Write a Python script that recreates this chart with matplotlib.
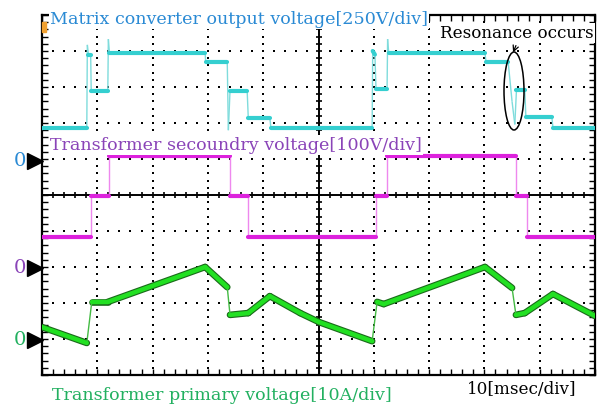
import numpy as np
import matplotlib
matplotlib.use('Agg')
import matplotlib.pyplot as plt
from matplotlib.collections import LineCollection
from matplotlib.patches import Ellipse, Rectangle

# traces in screen divisions (x: 0..10, y: 0..10 from the bottom)
cyan_x = [0, 0.81, 0.82, 0.84, 0.88, 0.89, 1.19, 1.20, 1.22, 2.95, 2.96, 3.35, 3.37, 3.40,
          3.71, 3.73, 4.12, 4.14, 5.97, 5.98, 6.02, 6.04, 6.24, 6.25, 6.27, 8.01, 8.03,
          8.43, 8.50, 8.55, 8.58, 8.73, 8.75, 9.22, 9.24, 10]
cyan_y = [6.86, 6.86, 9.17, 8.90, 8.90, 7.90, 7.90, 9.33, 8.94, 8.94, 8.69, 8.69, 6.80, 7.90,
          7.90, 7.14, 7.14, 6.86, 6.86, 9.00, 8.90, 7.95, 7.95, 9.33, 8.94, 8.94, 8.69,
          8.69, 7.60, 6.96, 7.92, 7.92, 7.17, 7.17, 6.86, 6.86]

mag_x = [0, 0.89, 0.89, 1.21, 1.21, 3.40, 3.40, 3.73, 3.73, 6.04, 6.04, 6.24, 6.24,
         8.57, 8.57, 8.77, 8.77, 10]
mag_y = [3.82, 3.82, 4.97, 4.97, 6.08, 6.08, 4.97, 4.97, 3.82, 3.82, 4.97, 4.97, 6.08,
         6.08, 4.97, 4.97, 3.82, 3.82]

grn_x = [0, 0.81, 0.90, 1.19, 2.95, 3.35, 3.40, 3.73, 4.12, 4.67, 5.01, 5.97, 6.06, 6.18,
         8.01, 8.50, 8.57, 8.73, 9.24, 10]
grn_y = [1.33, 0.89, 2.03, 2.03, 3.00, 2.44, 1.67, 1.72, 2.19, 1.72, 1.47, 0.94, 2.03, 1.97,
         3.00, 2.42, 1.67, 1.72, 2.25, 1.64]

zero_marks = [5.94, 2.97, 0.97]
zero_colors = ['#2a8ad4', '#8a44b8', '#22b060']

fig = plt.figure(figsize=(6.02, 4.05), dpi=100)
ax = fig.add_axes([42/602, 30/405, 553/602, 360/405])
ax.set_xlim(0, 10)
ax.set_ylim(0, 10)

ticks = np.arange(0, 10.01, 0.2)
ax.set_xticks(ticks)
ax.set_yticks(ticks)
ax.set_xticklabels([])
ax.set_yticklabels([])
ax.tick_params(direction='in', length=4, width=1, top=True, right=True)
for s in ax.spines.values():
    s.set_linewidth(1.6)

# dotted graticule
for i in range(1, 10):
    if i == 5:
        continue
    ax.plot(np.full(len(ticks), i), ticks, 's', color='black', ms=1.6, mew=0, zorder=1)
    ax.plot(ticks, np.full(len(ticks), i), 's', color='black', ms=1.6, mew=0, zorder=1)

# centre cross
ax.axvline(5, color='black', lw=1.4, zorder=1)
ax.axhline(5, color='black', lw=1.4, zorder=1)
ax.plot(ticks, np.full(len(ticks), 5), '|', color='black', ms=5, mew=1.2, zorder=1)
ax.plot(np.full(len(ticks), 5), ticks, '_', color='black', ms=5, mew=1.2, zorder=1)


def trace(xs, ys, color, thin_color, lw, edge=None):
    pts = np.column_stack([xs, ys])
    segs = np.stack([pts[:-1], pts[1:]], axis=1)
    dx = np.abs(np.diff(xs)) * 55.3
    dy = np.abs(np.diff(ys)) * 36
    steep = dy > 3 * dx
    if edge is not None:
        ax.add_collection(LineCollection(segs[~steep], colors=edge, linewidths=lw + 1.6,
                                         capstyle='round', zorder=3))
    ax.add_collection(LineCollection(segs[steep], colors=thin_color, linewidths=1, zorder=3))
    ax.add_collection(LineCollection(segs[~steep], colors=color, linewidths=lw,
                                     capstyle='round', zorder=4))


trace(cyan_x, cyan_y, '#35cfd0', '#7fdcdc', 3)
trace(mag_x, mag_y, '#dd22dd', '#ee88ee', 3)
trace(grn_x, grn_y, '#22e022', '#44bb44', 3.2, edge='#1a6a1a')

# resonance annotation
ax.add_patch(Ellipse(((514 - 42) / 55.3, (375 - 91) / 36), 20 / 55.3, 78 / 36,
                     fill=False, color='black', lw=1.1, zorder=5))
ax.annotate('', xy=((512 - 42) / 55.3, (375 - 55) / 36), xytext=((517 - 42) / 55.3, (375 - 43) / 36),
            arrowprops=dict(arrowstyle='->', color='black', lw=0.9, mutation_scale=10), zorder=5)

# ground markers
for y, c in zip(zero_marks, zero_colors):
    ax.plot(-0.13, y, '>', color='black', ms=11, clip_on=False, zorder=6)
    ax.text(-0.40, y, '0', color=c, fontsize=14, family='DejaVu Serif', ha='center', va='center')

fig.add_artist(Rectangle((42/602, 1 - 32/405), 4/602, 10/405, color='#f0a030', transform=fig.transFigure))

serif = 'DejaVu Serif'
fig.text(50/602, 1 - 19/405, 'Matrix converter output voltage[250V/div]', color='#2a8ad4',
         fontsize=12.6, family=serif, va='center', ha='left',
         bbox=dict(facecolor='white', edgecolor='none', pad=1))
fig.text(50/602, 1 - 145/405, 'Transformer secoundry voltage[100V/div]', color='#8a44b8',
         fontsize=12.6, family=serif, va='center', ha='left',
         bbox=dict(facecolor='white', edgecolor='none', pad=1))
fig.text(440/602, 1 - 33/405, 'Resonance occurs', color='black',
         fontsize=12.1, family=serif, va='center', ha='left',
         bbox=dict(facecolor='white', edgecolor='none', pad=1), zorder=7)
fig.text(52/602, 1 - 395/405, 'Transformer primary voltage[10A/div]', color='#22b060',
         fontsize=12.6, family=serif, va='center', ha='left')
fig.text(467/602, 1 - 390/405, '10[msec/div]', color='black',
         fontsize=12.1, family=serif, va='center', ha='left')

fig.savefig('out.png', dpi=100)
